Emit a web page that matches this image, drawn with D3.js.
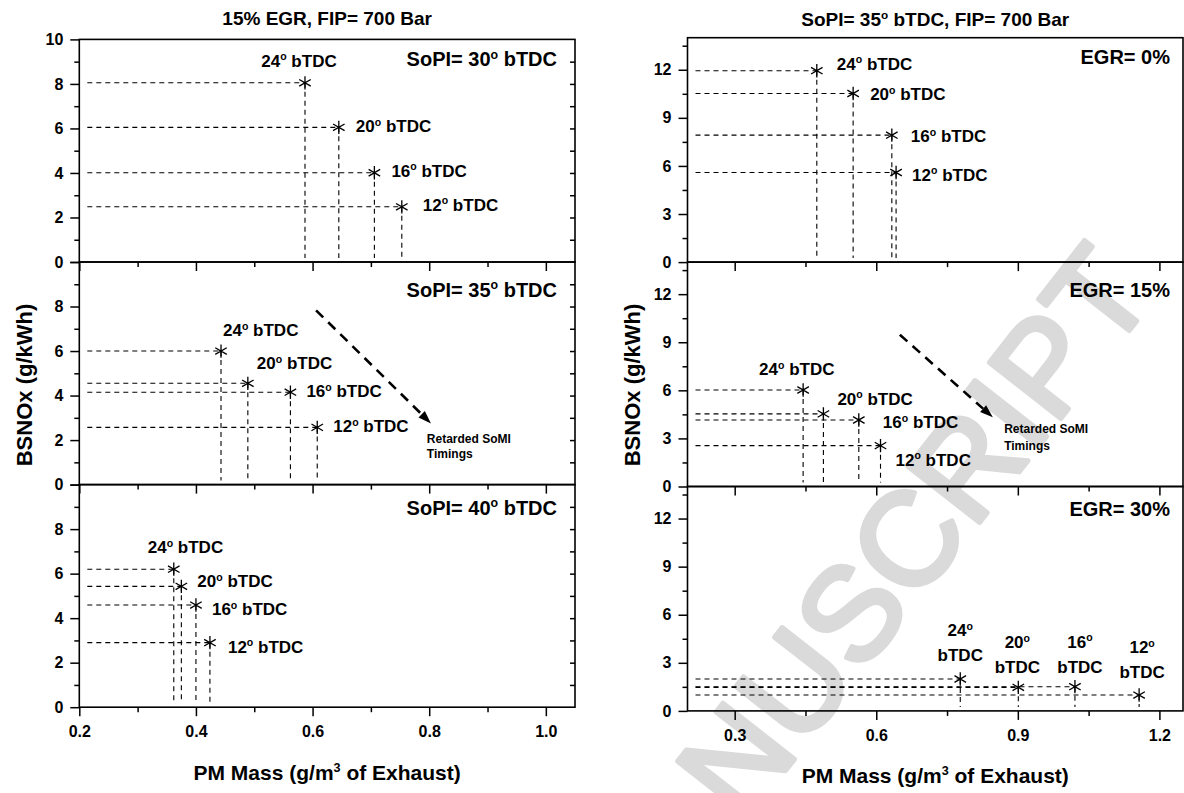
<!DOCTYPE html>
<html><head><meta charset="utf-8">
<script src="https://cdn.jsdelivr.net/npm/d3@7"></script>
<style>
body{margin:0;background:#fff}
svg text{font-family:"Liberation Sans",Arial,sans-serif;font-weight:bold;fill:#000}
</style>
</head><body>
<svg id="c" width="1184" height="793"></svg>
<script>
// ---------------- data ----------------
const timings = ["24", "20", "16", "12"];           // SoMI timings (deg bTDC)
const leftPanelNames = ["SoPI= 30", "SoPI= 35", "SoPI= 40"];
const rightPanelNames = ["EGR= 0%", "EGR= 15%", "EGR= 30%"];
const leftTitle = "15% EGR, FIP= 700 Bar";
const rightTitleParts = ["SoPI= 35", " bTDC, FIP= 700 Bar"];
const leftPM = [
  [0.587, 0.645, 0.706, 0.753],
  [0.443, 0.489, 0.562, 0.608],
  [0.362, 0.375, 0.400, 0.424]
];
const leftNOx = [
  [8.05, 6.05, 4.01, 2.48],
  [6.00, 4.55, 4.15, 2.57],
  [6.20, 5.43, 4.59, 2.90]
];
const rightPM = [
  [0.474, 0.551, 0.633, 0.642],
  [0.445, 0.488, 0.563, 0.609],
  [0.778, 0.901, 1.021, 1.157]
];
const rightNOx = [
  [11.94, 10.52, 7.92, 5.59],
  [6.02, 4.53, 4.15, 2.55],
  [1.99, 1.47, 1.51, 0.99]
];
const leftXTicks = [0.2, 0.4, 0.6, 0.8, 1.0];
const leftXMinor = [0.3, 0.5, 0.7, 0.9];
const leftYTicks = [0, 2, 4, 6, 8, 10];
const leftYMinor = [1, 3, 5, 7, 9];
const rightXTicks = [0.3, 0.6, 0.9, 1.2];
const rightXMinor = [0.45, 0.75, 1.05];
const rightYTicks = [0, 3, 6, 9, 12];
const rightYMinor = [1.5, 4.5, 7.5, 10.5, 13.5];
// trend arrows (data coords: [x0, y0, x1, y1]) and their note
const leftArrow = [0.606, 7.83, 0.803, 2.75];
const rightArrow = [0.650, 9.47, 0.847, 4.32];
const arrowNote = ["Retarded SoMI", "Timings"];
const leftNotePos = [0.796, 1.85, 1.20];
const rightNotePos = [0.871, 3.32, 2.28];
const xTitle = ["PM Mass (g/m", "3", " of Exhaust)"];
const yTitle = "BSNOx (g/kWh)";
const watermark = "ACCEPTED MANUSCRIPT";

// ---------------- layout / style ----------------
const svg = d3.select("#c");
const FONT = '"Liberation Sans",Arial,sans-serif';

// watermark (behind everything)
svg.append("text")
  .attr("transform", "translate(1158,294) rotate(-52)")
  .attr("text-anchor", "end")
  .attr("font-size", 132)
  .style("font-weight", "normal")
  .style("fill", "#dadada")
  .style("stroke", "#dadada")
  .style("stroke-width", 5)
  .style("stroke-linejoin", "round")
  .text(watermark);

function sup(sel, pre, s, post, fs, ratio, shift) {
  sel.append("tspan").text(pre);
  sel.append("tspan").text(s).attr("font-size", fs * (ratio || 0.62)).attr("dy", -fs * (shift || 0.38));
  sel.append("tspan").text(post).attr("dy", fs * (shift || 0.38));
}

const leftOffsets = [
  [[-6, -16, "middle"], [17, 5, "start"], [17, 4, "start"], [21, 4, "start"]],
  [[2, -15, "start"], [9, -14, "start"], [16, 5, "start"], [16, 5, "start"]],
  [[-26, -16, "start"], [16, 1, "start"], [16, 10, "start"], [18, 10, "start"]]
];
const rightOffsets = [
  [[20, -1, "start"], [17, 7, "start"], [19, 7, "start"], [16, 8, "start"]],
  [[-44, -15, "start"], [14, -9, "start"], [24, 8, "start"], [15, 20, "start"]],
  [[0, -43, "two"], [-1, -39, "two"], [5, -39, "two"], [3, -42, "two"]]
];

function drawColumn(cfg) {
  const x = d3.scaleLinear().domain(cfg.xDomain).range([cfg.left, cfg.right]);
  const n = cfg.names.length;
  for (let i = 0; i < n; i++) {
    const top = cfg.top + i * cfg.ph, bottom = top + cfg.ph;
    const y = d3.scaleLinear().domain(cfg.yDomain).range([bottom, top]);
    const g = svg.append("g");
    const isLast = i === n - 1;

    // axes
    const styleAxis = a => a.attr("font-size", 16).attr("font-family", FONT).attr("font-weight", "bold")
      .call(s => s.select(".domain").remove())
      .call(s => s.selectAll("line").attr("stroke", "#000").attr("stroke-width", 1.5));
    g.append("g").attr("transform", `translate(0,${bottom})`)
      .call(d3.axisBottom(x).tickValues(cfg.xTicks).tickSize(9).tickSizeOuter(0).tickPadding(9.5)
        .tickFormat(isLast ? d3.format(".1f") : () => ""))
      .call(styleAxis);
    g.append("g").attr("transform", `translate(0,${bottom})`)
      .call(d3.axisBottom(x).tickValues(cfg.xMinor).tickSize(5).tickSizeOuter(0).tickFormat(() => ""))
      .call(styleAxis);
    const yLab = cfg.yTicks.filter(v => i === 0 || v <= cfg.yLabelMax);
    g.append("g").attr("transform", `translate(${cfg.left},0)`)
      .call(d3.axisLeft(y).tickValues(cfg.yTicks).tickSize(9).tickSizeOuter(0).tickPadding(7)
        .tickFormat(v => yLab.includes(v) ? d3.format("d")(v) : ""))
      .call(styleAxis);
    g.append("g").attr("transform", `translate(${cfg.left},0)`)
      .call(d3.axisLeft(y).tickValues(cfg.yMinor).tickSize(5).tickSizeOuter(0).tickFormat(() => ""))
      .call(styleAxis);
    if (cfg.rightTicks) {
      g.append("g").attr("transform", `translate(${cfg.right},0)`)
        .call(d3.axisLeft(y).tickValues(cfg.rightTicks).tickSize(5).tickSizeOuter(0).tickFormat(() => ""))
        .call(styleAxis);
    }
    // frame
    g.append("rect").attr("x", cfg.left).attr("y", top)
      .attr("width", cfg.right - cfg.left).attr("height", cfg.ph)
      .attr("fill", "none").attr("stroke", "#000").attr("stroke-width", 1.6);

    // panel label
    const pl = g.append("text").attr("x", cfg.right - cfg.nameInset).attr("y", top + cfg.nameDy[i])
      .attr("text-anchor", "end").attr("font-size", 20);
    if (cfg.degName) sup(pl, cfg.names[i], "o", " bTDC", 20);
    else pl.text(cfg.names[i]);

    // reference dashed lines + points
    const pm = cfg.pm[i], nox = cfg.nox[i];
    pm.forEach((v, j) => {
      const px = x(v), py = y(nox[j]);
      g.append("line").attr("x1", cfg.left + 8).attr("x2", px).attr("y1", py).attr("y2", py)
        .attr("stroke", "#000").attr("stroke-width", 1.1).attr("stroke-dasharray", "5,4");
      g.append("line").attr("x1", px).attr("x2", px).attr("y1", py).attr("y2", bottom - 4)
        .attr("stroke", "#000").attr("stroke-width", 1.1).attr("stroke-dasharray", "5,4");
    });
    pm.forEach((v, j) => {
      const px = x(v), py = y(nox[j]);
      g.append("path").attr("transform", `translate(${px},${py})`)
        .attr("d", d3.symbol(d3.symbolAsterisk, 125)())
        .attr("fill", "none").attr("stroke", "#000").attr("stroke-width", 1.3);
      const o = cfg.offsets[i][j];
      if (o[2] === "two") {
        const t1 = g.append("text").attr("x", px + o[0]).attr("y", py + o[1])
          .attr("text-anchor", "middle").attr("font-size", 17);
        sup(t1, timings[j], "o", "", 17);
        g.append("text").attr("x", px + o[0]).attr("y", py + o[1] + 25)
          .attr("text-anchor", "middle").attr("font-size", 17).text("bTDC");
      } else {
        const t = g.append("text").attr("x", px + o[0]).attr("y", py + o[1])
          .attr("text-anchor", o[2]).attr("font-size", 17);
        sup(t, timings[j], "o", " bTDC", 17);
      }
    });

    // trend arrow
    if (cfg.arrowPanel === i) {
      const a = cfg.arrow;
      const x0 = x(a[0]), y0 = y(a[1]), x1 = x(a[2]), y1 = y(a[3]);
      const ang = Math.atan2(y1 - y0, x1 - x0);
      const L = 13, Wd = 4.5;
      const bx = x1 - L * Math.cos(ang), by = y1 - L * Math.sin(ang);
      g.append("line").attr("x1", x0).attr("y1", y0).attr("x2", bx).attr("y2", by)
        .attr("stroke", "#000").attr("stroke-width", 2.6).attr("stroke-dasharray", "10,7");
      g.append("path").attr("d",
        `M${x1},${y1}L${bx - Wd * Math.sin(ang)},${by + Wd * Math.cos(ang)}L${bx + Wd * Math.sin(ang)},${by - Wd * Math.cos(ang)}Z`)
        .attr("fill", "#000");
      const np = cfg.notePos;
      g.append("text").attr("x", x(np[0])).attr("y", y(np[1])).attr("font-size", 12).text(arrowNote[0]);
      g.append("text").attr("x", x(np[0])).attr("y", y(np[2])).attr("font-size", 12).text(arrowNote[1]);
    }
  }
  // column title
  const cx = (cfg.left + cfg.right) / 2;
  const tt = svg.append("text").attr("x", cx).attr("y", cfg.titleY).attr("text-anchor", "middle").attr("font-size", 19);
  if (Array.isArray(cfg.title)) sup(tt, cfg.title[0], "o", cfg.title[1], 19);
  else tt.text(cfg.title);
  // x title
  const xt = svg.append("text").attr("x", cx).attr("y", cfg.xTitleY).attr("text-anchor", "middle").attr("font-size", 21);
  sup(xt, xTitle[0], xTitle[1], xTitle[2], 21, 0.6, 0.4);
  // y title
  svg.append("text").attr("transform", `translate(${cfg.yTitleX},${cfg.yTitleY}) rotate(-90)`)
    .attr("text-anchor", "middle").attr("font-size", 22).text(yTitle);
}

drawColumn({
  xDomain: [0.2, 1.05], left: 79.3, right: 575, top: 39.4, ph: 222.6,
  yDomain: [0, 10], xTicks: leftXTicks, xMinor: leftXMinor,
  yTicks: leftYTicks, yMinor: leftYMinor, yLabelMax: 8,
  rightTicks: d3.range(1, 10),
  names: leftPanelNames, degName: true, nameInset: 18, nameDy: [27, 35, 30],
  pm: leftPM, nox: leftNOx, offsets: leftOffsets,
  arrowPanel: 1, arrow: leftArrow, notePos: leftNotePos,
  title: leftTitle, titleY: 25, xTitleY: 780, yTitleX: 32, yTitleY: 385
});
drawColumn({
  xDomain: [0.2, 1.25], left: 687.5, right: 1183, top: 37.7, ph: 224.4,
  yDomain: [0, 14], xTicks: rightXTicks, xMinor: rightXMinor,
  yTicks: rightYTicks, yMinor: rightYMinor, yLabelMax: 12,
  rightTicks: null,
  names: rightPanelNames, degName: false, nameInset: 13, nameDy: [26, 35, 29],
  pm: rightPM, nox: rightNOx, offsets: rightOffsets,
  arrowPanel: 1, arrow: rightArrow, notePos: rightNotePos,
  title: rightTitleParts, titleY: 26, xTitleY: 783, yTitleX: 640, yTitleY: 385
});
</script>
</body></html>
